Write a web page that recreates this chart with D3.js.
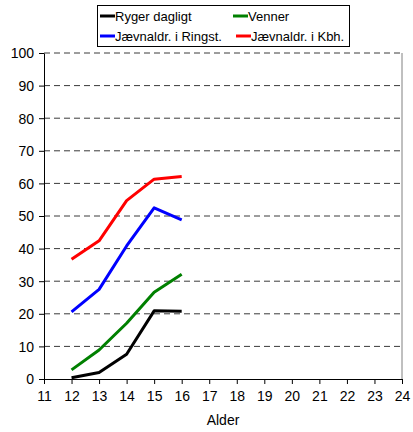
<!DOCTYPE html>
<html>
<head>
<meta charset="utf-8">
<script src="https://cdn.jsdelivr.net/npm/d3@7"></script>
<style>
body { margin: 0; background: #fff; }
text { font-family: "Liberation Sans", Arial, sans-serif; }
</style>
</head>
<body>
<svg id="chart"></svg>
<script>
var width = 413, height = 432;
var margin = { top: 53, right: 11, bottom: 53, left: 44 };

// data
var ages = [12, 13, 14, 15, 16];
var rygerDagligt = [0.4, 2.0, 7.6, 20.9, 20.8];
var venner = [2.8, 8.9, 17.1, 26.6, 32.1];
var jaevnRingst = [20.6, 27.5, 40.8, 52.5, 48.8];
var jaevnKbh = [36.7, 42.4, 54.7, 61.3, 62.1];
var seriesNames = ["Ryger dagligt", "Venner", "Jævnaldr. i Ringst.", "Jævnaldr. i Kbh."];
var seriesColors = ["#000000", "#008000", "#0000ff", "#ff0000"];
var xTicks = d3.range(11, 25);
var yTicks = [0, 10, 20, 30, 40, 50, 60, 70, 80, 90, 100];

var series = [rygerDagligt, venner, jaevnRingst, jaevnKbh];

var svg = d3.select("#chart")
    .attr("width", width)
    .attr("height", height);

var w = width - margin.left - margin.right,
    h = height - margin.top - margin.bottom;

var g = svg.append("g")
    .attr("transform", "translate(" + margin.left + "," + margin.top + ")");

var x = d3.scaleLinear().domain([11, 24]).range([0, w]);
var y = d3.scaleLinear().domain([0, 100]).range([h, 0]);

// dashed gridlines
g.selectAll(".grid")
    .data(yTicks.slice(1))
    .enter().append("line")
    .attr("x1", 0).attr("x2", w)
    .attr("y1", d => y(d)).attr("y2", d => y(d))
    .attr("stroke", "#3a3a3a")
    .attr("stroke-width", 1)
    .attr("stroke-dasharray", "6,4");

// right border
g.append("line")
    .attr("x1", w).attr("x2", w)
    .attr("y1", 0).attr("y2", h)
    .attr("stroke", "#808080");

// axes
var yAxis = g.append("g")
    .call(d3.axisLeft(y).tickValues(yTicks).tickSize(5).tickSizeOuter(0));
var xAxis = g.append("g")
    .attr("transform", "translate(0," + h + ")")
    .call(d3.axisBottom(x).tickValues(xTicks).tickSize(5).tickSizeOuter(0));

[xAxis, yAxis].forEach(function(a) {
  a.select(".domain").attr("stroke", "#000");
  a.selectAll(".tick line").attr("stroke", "#000");
  a.selectAll(".tick text")
    .attr("fill", "#000")
    .style("font-size", "14px")
    .style("font-family", "Liberation Sans, Arial, sans-serif");
});
yAxis.selectAll(".tick text").attr("x", -10).attr("dy", "0.35em");
xAxis.selectAll(".tick text").attr("y", 12);

// axis title
svg.append("text")
    .attr("x", margin.left + w / 2)
    .attr("y", 425)
    .attr("text-anchor", "middle")
    .style("font-size", "14px")
    .text("Alder");

// lines
var line = d3.line()
    .x((d, i) => x(ages[i]))
    .y(d => y(d));

g.selectAll(".series")
    .data(series)
    .enter().append("path")
    .attr("d", line)
    .attr("fill", "none")
    .attr("stroke", (d, i) => seriesColors[i])
    .attr("stroke-width", 3)
    .attr("stroke-linejoin", "round");

// legend
var legend = svg.append("g");
legend.append("rect")
    .attr("x", 97.5).attr("y", 5.5)
    .attr("width", 252).attr("height", 41)
    .attr("fill", "#fff")
    .attr("stroke", "#000");

var legendPos = [[100, 16], [233, 16], [100, 36], [236, 36]];
seriesNames.forEach(function(name, i) {
  var p = legendPos[i];
  legend.append("line")
    .attr("x1", p[0]).attr("x2", p[0] + 15)
    .attr("y1", p[1]).attr("y2", p[1])
    .attr("stroke", seriesColors[i])
    .attr("stroke-width", 3);
  legend.append("text")
    .attr("x", p[0] + 15)
    .attr("y", p[1])
    .attr("dy", "0.35em")
    .style("font-size", "13px")
    .text(name);
});
</script>
</body>
</html>
